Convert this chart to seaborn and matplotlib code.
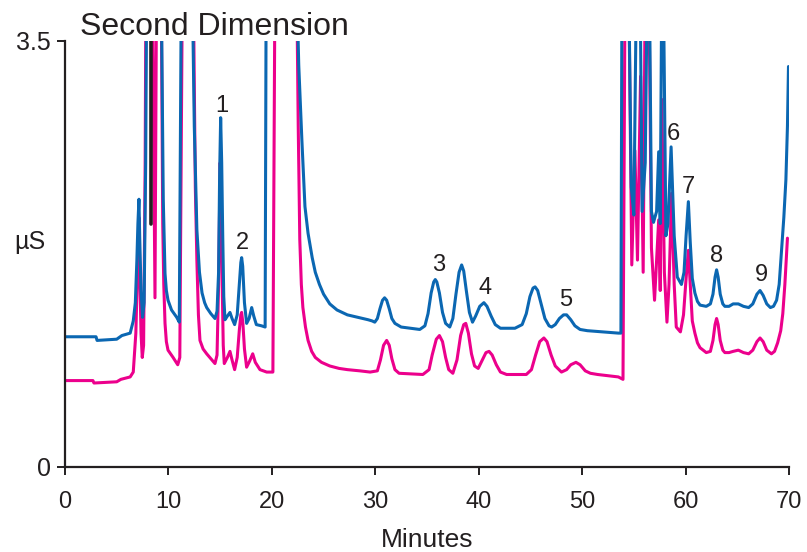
import matplotlib
matplotlib.use("Agg")
import matplotlib.pyplot as plt
import seaborn as sns
import pandas as pd

# ---- data (minutes, µS); values above 3.5 run off-scale ----
blue_t = [0, 3.0, 3.1, 5.0, 5.5, 6.3, 6.6, 6.8, 6.95, 7.05, 7.15, 7.22, 7.35, 7.5,
          7.65, 7.8, 7.9,
          9.3, 9.5, 9.67, 9.8, 9.96, 10.3, 10.8, 11.05, 11.25,
          12.3, 12.5, 12.75, 13.0, 13.25, 13.5, 13.7, 14.1, 14.5,
          14.7, 14.85, 14.95, 15.05, 15.15, 15.25, 15.35, 15.47,
          15.7, 15.95, 16.15, 16.4, 16.65, 16.85, 17.0, 17.08, 17.18, 17.35, 17.56,
          17.8, 18.05, 18.25, 18.5, 19.0, 19.35, 19.45,
          22.4, 22.6, 22.9, 23.2, 23.5, 23.9, 24.2, 24.6, 25.0, 25.6, 26.3, 27.3,
          28.3, 29.3, 29.7, 29.95,
          30.2, 30.45, 30.7, 30.9, 31.1, 31.35, 31.6, 31.9, 32.5, 34.3,
          34.8, 35.1, 35.4, 35.65, 35.8, 35.95, 36.2, 36.5, 36.8, 37.2,
          37.5, 37.8, 38.1, 38.35, 38.55, 38.8, 39.1, 39.4,
          39.7, 40.1, 40.5, 40.8, 41.2, 41.6, 42.1, 43.5,
          44.2, 44.6, 44.95, 45.25, 45.45, 45.7, 46.0, 46.4, 46.8, 47.05,
          47.4, 47.8, 48.2, 48.5, 48.9, 49.3, 49.8, 50.5, 53.5, 53.75,
          53.85, 54.5, 54.75, 55.0, 55.25, 55.6, 55.8, 56.1, 56.3, 56.5, 56.7,
          56.9, 57.2, 57.4, 57.55, 57.7, 57.85, 58.1, 58.3, 58.6, 58.9, 59.2,
          59.6, 59.85, 60.05, 60.27, 60.45, 60.65, 60.9, 61.15, 61.4, 62.0, 62.4,
          62.65, 62.85, 63.0, 63.15, 63.35, 63.6, 63.8, 64.2, 64.6, 65.1, 65.6,
          66.1, 66.5, 66.9, 67.2, 67.5, 67.85, 68.2, 68.5, 68.8, 69.05, 69.3,
          69.5, 69.7, 69.85, 69.95]
blue_v = [1.07, 1.07, 1.04, 1.05, 1.08, 1.10, 1.20, 1.35, 1.70, 2.00, 2.20, 1.90, 1.45, 1.23,
          1.35, 2.50, 4.0,
          4.0, 2.20, 1.59, 1.45, 1.37, 1.29, 1.23, 1.19, 4.0,
          4.0, 2.80, 1.95, 1.60, 1.43, 1.35, 1.31, 1.26, 1.22,
          1.28, 1.60, 2.40, 2.87, 2.50, 1.90, 1.40, 1.21,
          1.24, 1.27, 1.22, 1.17, 1.25, 1.50, 1.68, 1.72, 1.65, 1.35, 1.18,
          1.22, 1.31, 1.24, 1.17, 1.16, 1.15, 4.0,
          4.0, 3.30, 2.69, 2.14, 1.92, 1.72, 1.60, 1.50, 1.42, 1.34, 1.29, 1.25,
          1.23, 1.21, 1.20, 1.19,
          1.22, 1.30, 1.37, 1.39, 1.37, 1.30, 1.22, 1.18, 1.15, 1.13,
          1.16, 1.26, 1.43, 1.52, 1.54, 1.52, 1.43, 1.27, 1.18, 1.15,
          1.22, 1.42, 1.60, 1.66, 1.61, 1.45, 1.27, 1.19,
          1.24, 1.32, 1.35, 1.32, 1.24, 1.17, 1.14, 1.14,
          1.17, 1.26, 1.40, 1.47, 1.48, 1.45, 1.35, 1.22, 1.16, 1.15,
          1.17, 1.22, 1.25, 1.25, 1.21, 1.16, 1.13, 1.12, 1.10, 1.10,
          4.0, 4.0, 2.30, 2.07, 4.0, 4.0, 2.10, 2.50, 4.0, 4.0, 2.10,
          2.01, 2.10, 2.59, 2.00, 4.0, 4.0, 1.90, 2.00, 2.63, 1.90, 1.56,
          1.50, 1.60, 1.90, 2.18, 1.85, 1.55, 1.43, 1.36, 1.33, 1.32, 1.34,
          1.42, 1.56, 1.62, 1.56, 1.42, 1.34, 1.32, 1.32, 1.34, 1.34, 1.32,
          1.31, 1.34, 1.42, 1.45, 1.41, 1.34, 1.31, 1.32, 1.37, 1.50, 1.81,
          2.05, 2.36, 2.80, 3.29]

magenta_t = [0, 2.7, 2.8, 5.0, 5.4, 6.3, 6.6, 6.85, 7.0, 7.15, 7.25, 7.35, 7.47, 7.6,
             7.75, 7.83, 8.45, 8.7, 8.85, 9.3, 9.45, 9.55, 9.67, 9.8, 9.96, 10.45,
             10.9, 11.1, 11.35,
             12.4, 12.6, 12.75, 12.9, 13.05, 13.35, 13.7, 14.1, 14.5,
             14.7, 14.85, 14.95, 15.0, 15.1, 15.2, 15.3, 15.4,
             15.7, 15.95, 16.15, 16.4, 16.65, 16.85, 17.0, 17.08, 17.2, 17.35, 17.56,
             17.85, 18.15, 18.4, 18.85, 19.5, 20.1, 20.3,
             22.4, 22.55, 22.7, 22.85, 23.0, 23.25, 23.5, 23.85, 24.2, 24.8, 25.6,
             26.5, 27.3, 28.5, 29.5,
             30.2, 30.5, 30.8, 31.1, 31.35, 31.6, 31.9, 32.3, 34.6,
             35.2, 35.5, 35.9, 36.2, 36.5, 36.8, 37.1, 37.5,
             37.9, 38.25, 38.55, 38.75, 39.0, 39.3, 39.6, 39.95,
             40.3, 40.7, 41.0, 41.3, 41.7, 42.1, 42.7, 44.6,
             45.1, 45.5, 45.9, 46.3, 46.6, 47.0, 47.4, 48.0,
             48.5, 48.9, 49.4, 49.8, 50.3, 50.8, 51.5, 53.5, 53.95,
             54.15, 54.5, 54.8, 55.1, 55.35, 55.65, 55.9, 56.1, 56.45, 56.7, 57.0,
             57.4, 57.55, 57.7, 57.95, 58.2, 58.4, 58.65, 58.9, 59.1, 59.5,
             59.8, 60.05, 60.27, 60.45, 60.65, 60.9, 61.15, 61.4, 62.0, 62.4,
             62.65, 62.85, 63.0, 63.15, 63.35, 63.6, 63.8, 64.2, 64.6, 65.1, 65.6,
             66.1, 66.5, 66.9, 67.2, 67.5, 67.85, 68.3, 68.6, 68.9, 69.2, 69.4,
             69.6, 69.85]
magenta_v = [0.71, 0.71, 0.69, 0.70, 0.72, 0.74, 0.78, 1.10, 1.60, 2.05, 1.50, 1.10, 0.90, 1.00,
             2.50, 4.0, 4.0, 1.39, 4.0, 4.0, 2.00, 1.50, 1.18, 1.03, 0.96, 0.90,
             0.84, 0.90, 4.0,
             4.0, 2.30, 1.70, 1.25, 1.04, 0.97, 0.93, 0.89, 0.85,
             0.92, 1.50, 2.20, 2.50, 2.20, 1.50, 1.00, 0.85,
             0.90, 0.95, 0.88, 0.80, 0.90, 1.12, 1.25, 1.27, 1.18, 0.97, 0.82,
             0.87, 0.93, 0.86, 0.80, 0.78, 0.78, 4.0,
             4.0, 2.80, 1.87, 1.50, 1.31, 1.15, 1.04, 0.95, 0.90, 0.86, 0.83,
             0.81, 0.80, 0.79, 0.78,
             0.79, 0.88, 1.00, 1.04, 1.00, 0.89, 0.80, 0.77, 0.76,
             0.80, 0.92, 1.05, 1.08, 1.03, 0.90, 0.80, 0.77,
             0.88, 1.08, 1.17, 1.18, 1.10, 0.93, 0.83, 0.81,
             0.87, 0.94, 0.95, 0.92, 0.84, 0.78, 0.76, 0.76,
             0.80, 0.92, 1.03, 1.06, 1.03, 0.92, 0.83, 0.78,
             0.80, 0.84, 0.86, 0.84, 0.79, 0.77, 0.76, 0.74, 0.72,
             4.0, 4.0, 1.66, 2.60, 1.70, 3.21, 1.60, 4.0, 4.0, 1.80, 1.37,
             2.03, 1.45, 3.02, 1.60, 1.19, 1.50, 2.25, 1.50, 1.15, 1.11,
             1.25, 1.55, 1.78, 1.50, 1.20, 1.10, 1.02, 0.98, 0.94, 0.95,
             1.04, 1.17, 1.22, 1.17, 1.04, 0.96, 0.94, 0.94, 0.95, 0.96, 0.94,
             0.93, 0.96, 1.03, 1.06, 1.03, 0.96, 0.93, 0.95, 1.02, 1.12, 1.26,
             1.50, 1.88]

black_t = [8.36, 8.36]
black_v = [2.0, 4.0]

peak_labels = ["1", "2", "3", "4", "5", "6", "7", "8", "9"]
peak_label_t = [15.2, 17.2, 36.1, 40.6, 48.4, 58.8, 60.3, 63.0, 67.3]
peak_label_v = [2.97, 1.84, 1.66, 1.47, 1.37, 2.74, 2.30, 1.73, 1.58]

x_ticks = [0, 10, 20, 30, 40, 50, 60, 70]
y_ticks = [0, 3.5]
y_tick_labels = ["0", "3.5"]

df = pd.concat([
    pd.DataFrame({"Minutes": blue_t, "uS": blue_v, "trace": "blue"}),
    pd.DataFrame({"Minutes": magenta_t, "uS": magenta_v, "trace": "magenta"}),
    pd.DataFrame({"Minutes": black_t, "uS": black_v, "trace": "black"}),
], ignore_index=True)

sns.set_theme(style="ticks")
plt.rcParams["font.family"] = ["Liberation Sans", "DejaVu Sans"]

ink = "#231f20"
palette = {"blue": "#0b67b2", "magenta": "#ec008c", "black": "#231f20"}

fig = plt.figure(figsize=(8.07, 5.52), dpi=100)
ax = fig.add_axes([65 / 807, 1 - 467 / 552, 724 / 807, 426 / 552])

for name, lw in [("magenta", 2.2), ("blue", 2.2), ("black", 2.6)]:
    sns.lineplot(data=df[df["trace"] == name], x="Minutes", y="uS", hue="trace",
                 palette=palette, estimator=None, sort=False, legend=False,
                 linewidth=lw, ax=ax)

ax.set_xlim(0, 70)
ax.set_ylim(0, 3.5)
ax.set_xticks(x_ticks)
ax.set_yticks(y_ticks)
ax.set_yticklabels(y_tick_labels)
sns.despine(ax=ax)
for s in ["left", "bottom"]:
    ax.spines[s].set_color(ink)
    ax.spines[s].set_linewidth(1.6)
ax.tick_params(axis="both", colors=ink, length=6, width=1.4)
ax.tick_params(axis="x", labelsize=17, pad=11)
ax.tick_params(axis="y", labelsize=18, pad=4)

ax.set_xlabel("Minutes", fontsize=19, color=ink, labelpad=11)
ax.set_ylabel("µS", fontsize=18, color=ink, rotation=0)
ax.yaxis.set_label_coords(-0.048, 0.50)

for lab, t, v in zip(peak_labels, peak_label_t, peak_label_v):
    ax.text(t, v, lab, fontsize=17, color=ink, ha="center", va="center")

fig.text(80 / 807, 1 - 35 / 552, "Second Dimension", fontsize=23, color=ink,
         ha="left", va="baseline")

fig.savefig("out.png", dpi=100)
